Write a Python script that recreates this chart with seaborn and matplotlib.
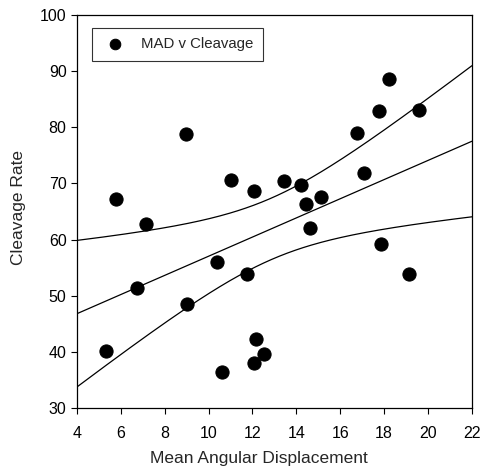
import numpy as np
import pandas as pd
import matplotlib
matplotlib.use("Agg")
import matplotlib.pyplot as plt
import seaborn as sns

mad = [5.31, 5.78, 6.73, 7.13, 8.98, 9.01, 10.39, 10.62, 11.0, 11.76, 12.05, 12.05, 12.16,
       12.54, 13.42, 14.2, 14.44, 14.6, 15.14, 16.78, 17.08, 17.78, 17.86, 18.2, 19.13, 19.57]
cleavage = [40.1, 67.2, 51.4, 62.7, 78.8, 48.6, 56.1, 36.4, 70.7, 53.8, 68.7, 38.1, 42.3,
            39.6, 70.4, 69.8, 66.3, 62.0, 67.6, 78.9, 71.8, 82.9, 59.2, 88.6, 53.8, 83.1]
x_ticks = [4, 6, 8, 10, 12, 14, 16, 18, 20, 22]
y_ticks = [30, 40, 50, 60, 70, 80, 90, 100]

df = pd.DataFrame({"Mean Angular Displacement": mad, "Cleavage Rate": cleavage})

sns.set_theme(style="ticks")
plt.rcParams['font.family'] = ['Liberation Sans', 'DejaVu Sans']

fig = plt.figure(figsize=(4.84, 4.68), dpi=100)
ax = fig.add_axes([0.159, 0.128, 0.816, 0.840])

sns.scatterplot(data=df, x="Mean Angular Displacement", y="Cleavage Rate", ax=ax,
                color="black", s=90, edgecolor="black", label="MAD v Cleavage", zorder=3)

# linear regression with 95% confidence band (analytic)
x = np.asarray(mad); y = np.asarray(cleavage)
n = len(x)
b1, b0 = np.polyfit(x, y, 1)
xg = np.linspace(4, 22, 200)
yhat = b0 + b1 * xg
resid = y - (b0 + b1 * x)
s = np.sqrt(np.sum(resid ** 2) / (n - 2))
t = 2.064  # t(0.975, 24)
se = s * np.sqrt(1.0 / n + (xg - x.mean()) ** 2 / np.sum((x - x.mean()) ** 2))
for line in (yhat, yhat - t * se, yhat + t * se):
    sns.lineplot(x=xg, y=line, ax=ax, color="black", linewidth=0.9, legend=False)

ax.set_xlim(4, 22)
ax.set_ylim(30, 100)
ax.set_xticks(x_ticks)
ax.set_yticks(y_ticks)
ax.tick_params(axis="both", direction="out", length=4, width=0.8, labelsize=11.5, colors="black")
ax.tick_params(axis="x", pad=9)
for sp in ax.spines.values():
    sp.set_visible(True)
    sp.set_linewidth(0.9)
    sp.set_color("black")
ax.set_xlabel("Mean Angular Displacement", fontsize=12.5, va="center")
ax.set_ylabel("Cleavage Rate", fontsize=12.5, va="center")
ax.xaxis.set_label_coords(0.461, -0.127)
ax.yaxis.set_label_coords(-0.148, 0.51)

leg = ax.legend(loc="upper left", frameon=True, fancybox=False, edgecolor="black",
                fontsize=10.8, borderpad=0.62, handletextpad=0.8, handlelength=1.87,
                borderaxespad=0, bbox_to_anchor=(0.038, 0.967), markerscale=0.8)
leg.get_frame().set_linewidth(0.8)

fig.savefig("out.png", dpi=100)
